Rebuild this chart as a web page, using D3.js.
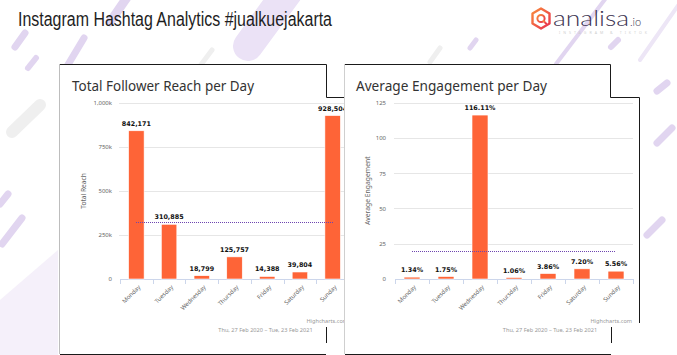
<!DOCTYPE html>
<html>
<head>
<meta charset="utf-8">
<script src="https://cdn.jsdelivr.net/npm/d3@7"></script>
<style>
  html, body { margin: 0; padding: 0; background: #fff; }
  svg { display: block; }
</style>
</head>
<body>
<svg id="c" width="677" height="355"></svg>
<script>
// ---------- data ----------
const days = ["Monday", "Tuesday", "Wednesday", "Thursday", "Friday", "Saturday", "Sunday"];
const reachValues = [842171, 310885, 18799, 125757, 14388, 39804, 928504];
const engagementValues = [1.34, 1.75, 116.11, 1.06, 3.86, 7.20, 5.56];
const reachTicks = [0, 250000, 500000, 750000, 1000000];
const reachTickLabels = ["0", "250k", "500k", "750k", "1,000k"];
const engagementTicks = [0, 25, 50, 75, 100, 125];
const engagementTickLabels = ["0", "25", "50", "75", "100", "125"];
const mainTitle = "Instagram Hashtag Analytics #jualkuejakarta";
const reachTitle = "Total Follower Reach per Day";
const engagementTitle = "Average Engagement per Day";
const reachAxisTitle = "Total Reach";
const engagementAxisTitle = "Average Engagement";
const dateRange = "Thu, 27 Feb 2020 \u2013 Tue, 23 Feb 2021";
const credit = "Highcharts.com";

// ---------- setup ----------
const svg = d3.select("#c");
const BAR = "#fe6437";
const LAV = "#e1d5f0";
const GRAY_DECO = "#efefef";

// background decorations
const deco = svg.append("g").attr("stroke-linecap", "round").attr("fill", "none");
deco.append("path").attr("d", "M0,300 L58,250 L58,355 L0,355 Z").attr("fill", "#f5f0fa").attr("stroke", "none");
const decoLines = [
  [292, -14, 248, 46, 30, "#ebe2f6"],
  [25, 33, 15, 47, 7, LAV],
  [84, 38, 66, 68, 7, LAV],
  [128, -4, 110, 22, 9, LAV],
  [40, 105, 12, 132, 12, GRAY_DECO],
  [22, 218, 2, 244, 7, LAV],
  [8, 194, 0, 204, 7, LAV],
  [36, 58, 28, 68, 6, LAV],
  [212, 50, 200, 66, 5, GRAY_DECO],
  [440, 48, 430, 62, 5, GRAY_DECO],
  [476, 40, 470, 48, 5, LAV],
  [686, -6, 640, 60, 4, "#ede6f6"],
  [606, -2, 556, 64, 4, LAV],
  [618, 40, 611, 47, 6, LAV],
  [667, 83, 657, 91, 7, LAV],
  [672, 128, 657, 143, 7, LAV],
  [662, 220, 647, 235, 7, LAV]
];
decoLines.forEach(([x1, y1, x2, y2, w, c]) => {
  deco.append("line").attr("x1", x1).attr("y1", y1).attr("x2", x2).attr("y2", y2)
    .attr("stroke", c).attr("stroke-width", w);
});

// main title
svg.append("text").attr("x", 18).attr("y", 26)
  .attr("font-family", "Liberation Sans, Arial, sans-serif").attr("font-size", 20)
  .attr("fill", "#1e1e1e").attr("textLength", 314).attr("lengthAdjust", "spacingAndGlyphs")
  .text(mainTitle);

// logo
const logo = svg.append("g");
const defs = svg.append("defs");
const lg = defs.append("linearGradient").attr("id", "lg").attr("x1", 0).attr("y1", 0).attr("x2", 1).attr("y2", 1);
lg.append("stop").attr("offset", 0).attr("stop-color", "#f98a3c");
lg.append("stop").attr("offset", 1).attr("stop-color", "#e8324f");
logo.append("path")
  .attr("d", "M541,8.5 L549.5,13.5 L549.5,23.5 L541,28.5 L532.5,23.5 L532.5,13.5 Z")
  .attr("fill", "none").attr("stroke", "url(#lg)").attr("stroke-width", 2.4).attr("stroke-linejoin", "round");
logo.append("circle").attr("cx", 541).attr("cy", 18.5).attr("r", 3.6)
  .attr("fill", "none").attr("stroke", "url(#lg)").attr("stroke-width", 2);
logo.append("line").attr("x1", 543.5).attr("y1", 21).attr("x2", 546).attr("y2", 23.5)
  .attr("stroke", "url(#lg)").attr("stroke-width", 2).attr("stroke-linecap", "round");
logo.append("text").attr("x", 553).attr("y", 26)
  .attr("font-family", "Lato, Noto Sans, sans-serif").attr("font-size", 22).attr("font-weight", 300)
  .attr("fill", "#3d3452").attr("textLength", 76).attr("lengthAdjust", "spacingAndGlyphs")
  .text("analisa");
logo.append("text").attr("x", 630).attr("y", 26)
  .attr("font-family", "Lato, Noto Sans, sans-serif").attr("font-size", 11).attr("font-weight", 300)
  .attr("fill", "#3d3452").text(".io");
logo.append("text").attr("x", 559).attr("y", 34)
  .attr("font-family", "Noto Sans, sans-serif").attr("font-size", 3.6)
  .attr("fill", "#cfcfcf").attr("textLength", 88).attr("lengthAdjust", "spacing")
  .text("INSTAGRAM & TIKTOK");

// ---------- chart drawing ----------
function drawChart(g, cfg) {
  const x = d3.scaleBand().domain(days).range([cfg.left, cfg.right])
    .paddingInner(cfg.pad).paddingOuter(cfg.pad / 2);
  const y = d3.scaleLinear().domain(cfg.domain).range([cfg.bottom, cfg.top]);

  // title
  g.append("text").attr("x", cfg.titleX).attr("y", 90.5)
    .attr("font-family", "Noto Sans, sans-serif").attr("font-size", 14)
    .attr("fill", "#333").attr("textLength", cfg.titleLen).attr("lengthAdjust", "spacingAndGlyphs")
    .text(cfg.title);

  // grid + y labels
  const yAxis = d3.axisLeft(y).tickValues(cfg.ticks)
    .tickFormat((d, i) => cfg.tickLabels[i]).tickSize(0).tickPadding(0);
  const ya = g.append("g").attr("transform", `translate(${cfg.labelRight},0)`).call(yAxis);
  ya.select(".domain").remove();
  ya.selectAll("text").attr("font-family", "Noto Sans, sans-serif").attr("font-size", 6)
    .attr("fill", "#666").attr("dy", "0.32em");

  g.append("g").selectAll("line").data(cfg.ticks.slice(1)).join("line")
    .attr("x1", cfg.left - 1).attr("x2", cfg.gridRight)
    .attr("y1", d => Math.round(y(d)) + 0.5).attr("y2", d => Math.round(y(d)) + 0.5)
    .attr("stroke", "#e6e6e6").attr("stroke-width", 1);

  // axis title
  g.append("text")
    .attr("transform", `translate(${cfg.axisTitleX},${(cfg.top + cfg.bottom) / 2}) rotate(-90)`)
    .attr("text-anchor", "middle").attr("dy", "0.35em")
    .attr("font-family", "Noto Sans, sans-serif").attr("font-size", cfg.axisTitleSize)
    .attr("fill", "#666").text(cfg.axisTitle);

  // x axis
  const step = x.step();
  g.append("line").attr("x1", cfg.left).attr("x2", cfg.gridRight)
    .attr("y1", cfg.bottom + 0.5).attr("y2", cfg.bottom + 0.5)
    .attr("stroke", "#ccd6eb");
  g.append("g").selectAll("line").data(d3.range(days.length + 1)).join("line")
    .attr("x1", i => Math.round(cfg.left + i * step) + 0.5)
    .attr("x2", i => Math.round(cfg.left + i * step) + 0.5)
    .attr("y1", cfg.bottom).attr("y2", cfg.bottom + 5).attr("stroke", "#ccd6eb");
  g.append("g").selectAll("text").data(days).join("text")
    .attr("transform", d => `translate(${x(d) + x.bandwidth() / 2 + 3},${cfg.bottom + 7}) rotate(-45)`)
    .attr("text-anchor", "end").attr("dy", "0.35em")
    .attr("font-family", "Noto Sans, sans-serif").attr("font-size", 6).attr("fill", "#666")
    .text(d => d);

  // bars
  g.append("g").selectAll("rect").data(cfg.values).join("rect")
    .attr("x", (d, i) => x(days[i]))
    .attr("width", x.bandwidth())
    .attr("y", d => y(d))
    .attr("height", d => cfg.bottom - y(d))
    .attr("fill", BAR).attr("stroke", "#fff").attr("stroke-width", 0.6);

  // average line
  const avg = d3.mean(cfg.values);
  g.append("line")
    .attr("x1", Math.round(x(days[0]) + x.bandwidth() / 2))
    .attr("x2", Math.round(x(days[days.length - 1]) + x.bandwidth() / 2))
    .attr("y1", Math.round(y(avg)) + 0.5).attr("y2", Math.round(y(avg)) + 0.5)
    .attr("stroke", "#6e45b0").attr("stroke-width", 1).attr("stroke-dasharray", "1,1");

  // data labels
  g.append("g").selectAll("text").data(cfg.values).join("text")
    .attr("x", (d, i) => x(days[i]) + x.bandwidth() / 2)
    .attr("y", d => y(d) - 5)
    .attr("text-anchor", "middle")
    .attr("font-family", "DejaVu Sans, sans-serif").attr("font-weight", "bold")
    .attr("font-size", 6.4).attr("fill", "#111")
    .attr("stroke", "#fff").attr("stroke-width", 1.5).attr("paint-order", "stroke")
    .text(d => cfg.fmt(d));

  // credits & subtitle
  g.append("text").attr("x", cfg.gridRight - 1).attr("y", 322.5).attr("text-anchor", "end")
    .attr("font-family", "Noto Sans, sans-serif").attr("font-size", 5.6).attr("fill", "#999")
    .text(credit);
  g.append("text").attr("x", cfg.subX).attr("y", 332).attr("text-anchor", "middle")
    .attr("font-family", "Noto Sans, sans-serif").attr("font-size", 5.6).attr("fill", "#999")
    .text(dateRange);
}

// ---------- left card ----------
const left = svg.append("g");
left.append("path").attr("d", "M59,64 H326 V97 H360 V354 H59 Z").attr("fill", "#fff");
drawChart(left, {
  left: 120, right: 349, gridRight: 349, pad: 0.526, top: 103, bottom: 279,
  domain: [0, 1000000], ticks: reachTicks, tickLabels: reachTickLabels,
  labelRight: 112, axisTitle: reachAxisTitle, axisTitleX: 84, axisTitleSize: 6.6,
  values: reachValues, fmt: d3.format(","),
  title: reachTitle, titleX: 72, titleLen: 182, subX: 265.5
});

// ---------- right card ----------
const right = svg.append("g");
right.append("path").attr("d", "M344,64 H610 V97 H639 V323 H611 V354 H344 Z").attr("fill", "#fff");
drawChart(right, {
  left: 395, right: 633, gridRight: 633, pad: 0.53, top: 102.5, bottom: 279,
  domain: [0, 125], ticks: engagementTicks, tickLabels: engagementTickLabels,
  labelRight: 386, axisTitle: engagementAxisTitle, axisTitleX: 368, axisTitleSize: 6.8,
  values: engagementValues, fmt: d => d3.format(".2f")(d) + "%",
  title: engagementTitle, titleX: 356, titleLen: 191, subX: 550
});

// ---------- frame lines ----------
const frame = svg.append("g").attr("fill", "none").attr("stroke-width", 1);
frame.append("line").attr("x1", 59.5).attr("y1", 64).attr("x2", 59.5).attr("y2", 354).attr("stroke", "#bdbdbd");
frame.append("line").attr("x1", 344.5).attr("y1", 64).attr("x2", 344.5).attr("y2", 354).attr("stroke", "#cfcfcf");
frame.append("path").attr("d", "M60,64.5 H326.5 V97.5 H344").attr("stroke", "#1a1a1a");
frame.append("path").attr("d", "M326.5,327 V343").attr("stroke", "#1a1a1a");
frame.append("path").attr("d", "M60,354.5 H326").attr("stroke", "#1a1a1a");
frame.append("path").attr("d", "M345,64.5 H610.5 V97.5 H639.5 V323").attr("stroke", "#1a1a1a");
frame.append("path").attr("d", "M611.5,327 V343").attr("stroke", "#1a1a1a");
frame.append("path").attr("d", "M345,354.5 H611").attr("stroke", "#1a1a1a");
</script>
</body>
</html>
